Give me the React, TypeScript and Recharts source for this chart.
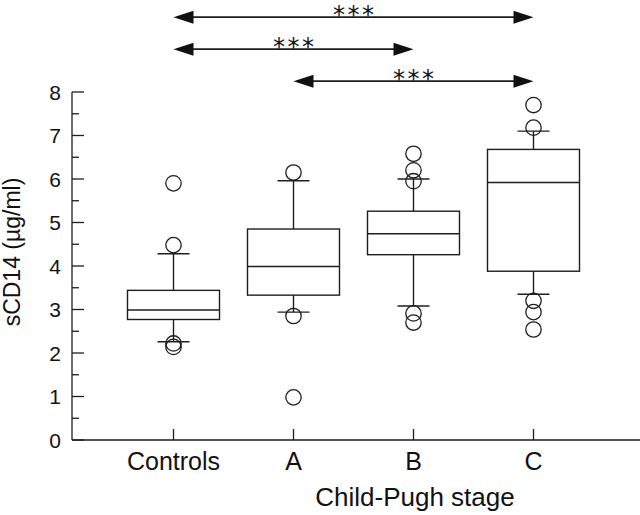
import { Bar, ComposedChart, ReferenceLine, Scatter, XAxis, YAxis } from "recharts";

// categories
const stages = ["Controls", "A", "B", "C"];

// box plot statistics per stage (sCD14, µg/ml)
const whiskerLow = [2.26, 2.94, 3.08, 3.35];
const quartile1 = [2.77, 3.33, 4.26, 3.88];
const medians = [2.99, 3.99, 4.74, 5.92];
const quartile3 = [3.44, 4.85, 5.26, 6.68];
const whiskerHigh = [4.28, 5.96, 6.0, 7.1];

// outliers per stage
const controlsOutliers = [5.9, 4.48, 2.22, 2.14];
const stageAOutliers = [6.15, 2.85, 0.98];
const stageBOutliers = [6.58, 6.2, 5.95, 2.91, 2.7];
const stageCOutliers = [7.7, 7.18, 3.2, 2.94, 2.54];

// significance brackets
const compareFrom = ["A", "Controls", "Controls"];
const compareTo = ["C", "B", "C"];
const compareLabel = ["***", "***", "***"];

const yTicks = [0, 0.5, 1, 1.5, 2, 2.5, 3, 3.5, 4, 4.5, 5, 5.5, 6, 6.5, 7, 7.5, 8];

const boxRows = stages.map((stage, i) => ({
    stage,
    range: [whiskerLow[i], whiskerHigh[i]],
    lo: whiskerLow[i],
    q1: quartile1[i],
    med: medians[i],
    q3: quartile3[i],
    hi: whiskerHigh[i],
}));

const outlierRows = [controlsOutliers, stageAOutliers, stageBOutliers, stageCOutliers].flatMap(
    (vals, i) => vals.map((value) => ({ stage: stages[i], value }))
);

const INK = "#1e1e1e";
const FONT = "'Liberation Sans', Arial, sans-serif";

const BoxShape = (props: any) => {
    const { x, y, width, height, payload } = props;
    const { lo, q1, med, q3, hi } = payload;
    const k = height / (hi - lo);
    const py = (v: number) => y + (hi - v) * k;
    const cx = x + width / 2;
    const cap = 16;
    return (
        <g stroke={INK} strokeWidth={1.4} fill="none">
            <line x1={cx} x2={cx} y1={py(hi)} y2={py(q3)} />
            <line x1={cx} x2={cx} y1={py(q1)} y2={py(lo)} />
            <line x1={cx - cap} x2={cx + cap} y1={py(hi)} y2={py(hi)} />
            <line x1={cx - cap} x2={cx + cap} y1={py(lo)} y2={py(lo)} />
            <rect x={x} y={py(q3)} width={width} height={py(q1) - py(q3)} />
            <line x1={x} x2={x + width} y1={py(med)} y2={py(med)} />
        </g>
    );
};

const OutlierDot = (props: any) => (
    <circle cx={props.cx} cy={props.cy} r={7.7} fill="none" stroke={INK} strokeWidth={1.3} />
);

const XTick = ({ x, y, payload }: any) => (
    <g>
        <line x1={x} x2={x} y1={y} y2={y - 11} stroke={INK} strokeWidth={1.3} />
        <text x={x} y={y + 30} textAnchor="middle" fontSize={25} fill="#111">
            {payload.value}
        </text>
    </g>
);

const YTick = ({ x, y, payload }: any) => {
    const major = Number.isInteger(payload.value);
    return (
        <g>
            <line x1={x} x2={x + (major ? 12 : 7)} y1={y} y2={y} stroke={INK} strokeWidth={1.3} />
            {major && (
                <text x={x - 11} y={y} dy="0.36em" textAnchor="end" fontSize={21} fill="#111">
                    {payload.value}
                </text>
            )}
        </g>
    );
};

const makeArrow = (label: string) => (props: any) => {
    const { x1, y1, x2 } = props;
    const head = 20;
    const half = 6.5;
    return (
        <g>
            <line x1={x1 + head - 2} x2={x2 - head + 2} y1={y1} y2={y1} stroke={INK} strokeWidth={1.8} />
            <polygon points={`${x1},${y1} ${x1 + head},${y1 - half} ${x1 + head},${y1 + half}`} fill="#111" />
            <polygon points={`${x2},${y1} ${x2 - head},${y1 - half} ${x2 - head},${y1 + half}`} fill="#111" />
            <text
                x={(x1 + x2) / 2 + 1.2}
                y={y1 + 6}
                textAnchor="middle"
                fontSize={24}
                letterSpacing={2.5}
                fontFamily="'DejaVu Sans', sans-serif"
                fill="#111"
            >
                {label}
            </text>
        </g>
    );
};

const YTitle = (props: any) => {
    const vb = props.viewBox;
    const cy = vb.y + vb.height / 2 - 14;
    return (
        <text
            transform={`translate(20, ${cy}) rotate(-90)`}
            textAnchor="middle"
            fontSize={23}
            fill="#111"
        >
            sCD14 (µg/ml)
        </text>
    );
};

const XTitle = (props: any) => {
    const vb = props.viewBox;
    return (
        <text x={vb.x + vb.width / 2 + 59} y={506} textAnchor="middle" fontSize={26} fill="#111">
            Child-Pugh stage
        </text>
    );
};

export default function App() {
    return (
        <div style={{ position: "absolute", left: 0, top: 0, fontFamily: FONT, background: "#fff" }}>
            <ComposedChart
                width={640}
                height={515}
                data={boxRows}
                margin={{ top: 92, right: 0, bottom: 0, left: 0 }}
            >
                <XAxis
                    dataKey="stage"
                    type="category"
                    allowDuplicatedCategory={false}
                    padding={{ left: 41.5, right: 46.5 }}
                    height={75}
                    axisLine={{ stroke: INK, strokeWidth: 1.3 }}
                    tickLine={false}
                    tickSize={0}
                    tickMargin={0}
                    interval={0}
                    tick={<XTick />}
                    label={<XTitle />}
                />
                <YAxis
                    type="number"
                    domain={[0, 8]}
                    ticks={yTicks}
                    interval={0}
                    width={72}
                    axisLine={{ stroke: INK, strokeWidth: 1.3 }}
                    tickLine={false}
                    tickSize={0}
                    tickMargin={0}
                    tick={<YTick />}
                    label={<YTitle />}
                />
                <Bar dataKey="range" barSize={92} shape={<BoxShape />} isAnimationActive={false} />
                <Scatter data={outlierRows} dataKey="value" shape={<OutlierDot />} isAnimationActive={false} />
                {compareFrom.map((from, i) => {
                    const level = 8.25 + i * 0.735;
                    return (
                        <ReferenceLine
                            key={`cmp-${i}`}
                            segment={[
                                { x: from, y: level },
                                { x: compareTo[i], y: level },
                            ]}
                            ifOverflow="visible"
                            shape={makeArrow(compareLabel[i])}
                        />
                    );
                })}
            </ComposedChart>
        </div>
    );
}
